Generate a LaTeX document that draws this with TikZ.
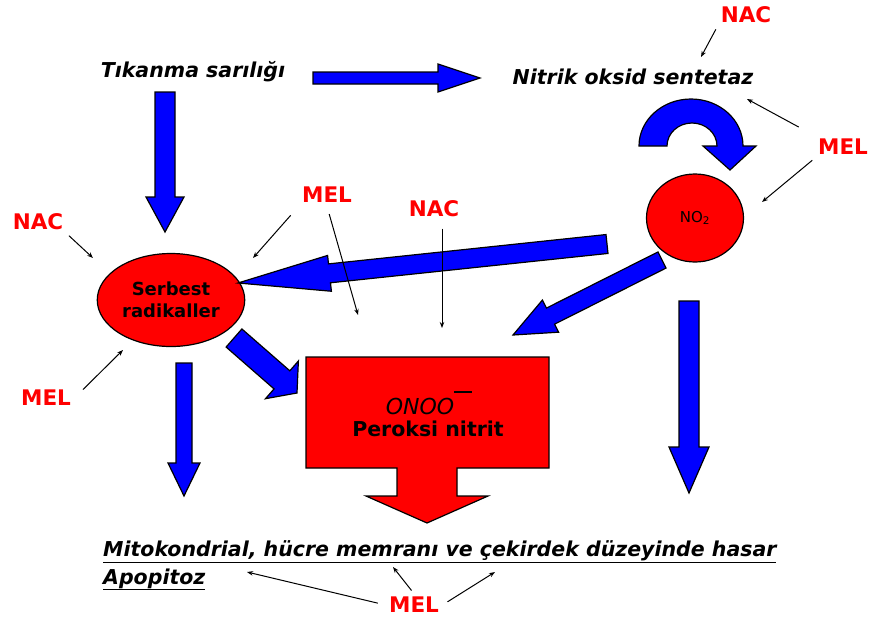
\documentclass[tikz,border=0pt]{standalone}
\usepackage{fontspec}
\setmainfont{DejaVu Sans}[BoldFont={DejaVu Sans Bold}, ItalicFont={DejaVu Sans Oblique}, BoldItalicFont={DejaVu Sans Bold Oblique}]
\usetikzlibrary{calc, arrows.meta, shapes.geometric}

% block arrow: tail, tip, shaft half width, head half width, head length
\newcommand{\fatarrow}[5]{%
  \coordinate (fh) at ($(#2)!#5!(#1)$);
  \filldraw[fat] ($(#1)!#3!90:(#2)$) -- ($(fh)!#3!90:(#2)$) -- ($(fh)!#4!90:(#2)$) -- (#2)
    -- ($(fh)!#4!-90:(#2)$) -- ($(fh)!#3!-90:(#2)$) -- ($(#1)!#3!-90:(#2)$) -- cycle;}

\begin{document}
\begin{tikzpicture}[x=1pt, y=-1pt,
    fat/.style = {draw=black, fill=blue, line width=1.2pt, line join=miter},
    lab/.style = {text=red, font=\fontsize{21.5}{24}\selectfont\bfseries},
    ttl/.style = {font=\fontsize{20.5}{24}\selectfont\bfseries\itshape},
    blob/.style = {draw, fill=red, line width=1.2pt, ellipse},
    thinarr/.style = {-{Stealth[length=6pt, width=4.5pt]}, line width=1pt}]
    \useasboundingbox (0,0) rectangle (873,622);

    \node[ttl] (tik) at (193,72) {Tıkanma sarılığı};
    \node[ttl] (nos) at (633,77) {Nitrik oksid sentetaz};
    \node[blob, minimum width=142, minimum height=93, align=center,
          font=\fontsize{18}{22}\selectfont\bfseries] (sr) at (171,300) {Serbest\\radikaller};
    \node[blob, minimum width=97, minimum height=88,
          font=\fontsize{15}{17}\selectfont] (no) at (695,218) {NO\textsubscript{2}};

    \node[lab] (nact) at (746,15) {NAC};
    \node[lab] (melr) at (843,147) {MEL};
    \node[lab] (nacl) at (38,222) {NAC};
    \node[lab] (mell) at (46,398) {MEL};
    \node[lab] (melm) at (327,195) {MEL};
    \node[lab] (nacm) at (434,209) {NAC};
    \node[lab] (melb) at (414,605) {MEL};

    \coordinate (a1) at (313,78);  \coordinate (b1) at (480,78);
    \coordinate (a2) at (165,92);  \coordinate (b2) at (165,232);
    \coordinate (a3) at (607,244); \coordinate (b3) at (238,283);
    \coordinate (a4) at (662,260); \coordinate (b4) at (513,335);
    \coordinate (a5) at (234,338); \coordinate (b5) at (297,393);
    \coordinate (a6) at (184,363); \coordinate (b6) at (184,496);
    \coordinate (a7) at (689,301); \coordinate (b7) at (689,493);

    \fatarrow{a1}{b1}{6pt}{14pt}{42pt}
    \fatarrow{a2}{b2}{10pt}{19pt}{35pt}
    \fatarrow{a3}{b3}{9.5pt}{18pt}{92pt}
    \fatarrow{a4}{b4}{9pt}{18pt}{42pt}
    \fatarrow{a5}{b5}{12pt}{25pt}{20pt}
    \fatarrow{a6}{b6}{8pt}{16pt}{33pt}
    \fatarrow{a7}{b7}{10pt}{20pt}{46pt}

    \filldraw[fat] (639,146) arc[start angle=180, end angle=360, x radius=52, y radius=47]
        -- (756,146) -- (730,170) -- (703,146) -- (717,146)
        arc[start angle=360, end angle=180, x radius=25, y radius=23] -- cycle;

    \filldraw[draw=black, fill=red, line width=1.2pt, line join=miter]
        (306,357) -- (549,357) -- (549,468) -- (457,468) -- (457,496) -- (488,496)
        -- (427,523) -- (366,496) -- (397,496) -- (397,468) -- (306,468) -- cycle;
    \node[font=\fontsize{22}{24}\selectfont\itshape] (onoo) at (420,403)
        {ONOO\rlap{\raisebox{1.0em}{\rule{0.8em}{1.4pt}}}};
    \node[font=\fontsize{20.5}{24}\selectfont\bfseries] (per) at (428,429) {Peroksi nitrit};

    \node[ttl, anchor=base west, inner sep=0pt] (has) at (103,556)
        {\underline{Mitokondrial, hücre memranı ve çekirdek düzeyinde hasar}};
    \node[ttl, anchor=base west, inner sep=0pt] (apo) at (103,584) {\underline{Apopitoz}};

    \coordinate (t1) at (701,57);  \coordinate (t2) at (747,99);
    \coordinate (t3) at (762,202); \coordinate (t4) at (93,258);
    \coordinate (t5) at (123,350); \coordinate (t6) at (253,258);
    \coordinate (t7) at (358,315); \coordinate (t8) at (442,328);
    \coordinate (t9) at (247,572); \coordinate (t10) at (393,567);
    \coordinate (t11) at (495,572);

    \draw[thinarr, shorten <=3pt] (nact.south west) -- (t1);
    \draw[thinarr, shorten <=18pt] (melr.north west) -- (t2);
    \draw[thinarr, shorten <=3pt] (melr.south west) -- (t3);
    \draw[thinarr, shorten <=3pt] (nacl.south east) -- (t4);
    \draw[thinarr, shorten <=12pt] (mell.east) -- (t5);
    \draw[thinarr, shorten <=12pt] (melm.south west) -- (t6);
    \draw[thinarr, shorten <=8pt] (melm.south) -- (t7);
    \draw[thinarr, shorten <=8pt] (nacm.south -| t8) -- (t8);
    \draw[thinarr, shorten <=8pt] (melb.west) -- (t9);
    \draw[thinarr, shorten <=4pt] (melb.north) -- (t10);
    \draw[thinarr, shorten <=6pt] (melb.east) -- (t11);
\end{tikzpicture}
\end{document}
